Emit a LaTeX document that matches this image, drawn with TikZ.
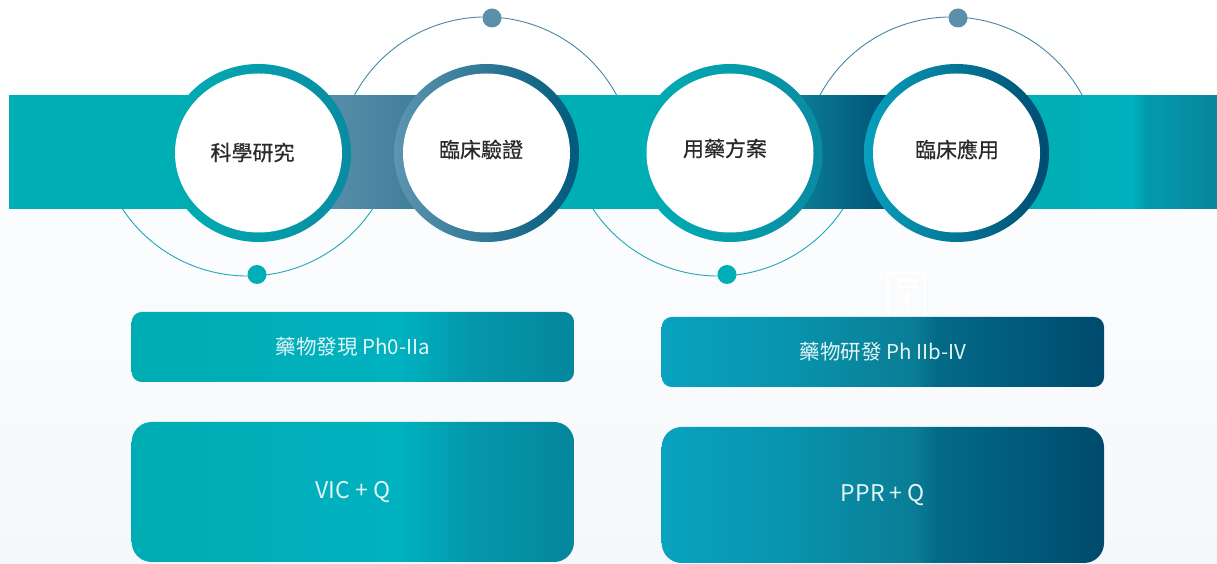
\documentclass[tikz,border=0pt]{standalone}
\usepackage{fontspec}
\newfontfamily\cjk{Noto Sans CJK TC}
\newfontfamily\cjkmed[FakeBold=0.5]{Noto Sans CJK TC}
\usetikzlibrary{arrows.meta}
\definecolor{bandteal}{HTML}{00AEB6}
\definecolor{steelL}{HTML}{5E93AE}
\definecolor{steelR}{HTML}{3A7A96}
\definecolor{navyL}{HTML}{0D849B}
\definecolor{navyR}{HTML}{004E72}
\definecolor{endA}{HTML}{00B1BE}
\definecolor{endB}{HTML}{039AAE}
\definecolor{endC}{HTML}{07869C}
\definecolor{ringTL}{HTML}{00AFB4}
\definecolor{ringTM}{HTML}{00B1BD}
\definecolor{ringTR}{HTML}{098BA2}
\definecolor{ringSL}{HTML}{5C95AF}
\definecolor{ringSM}{HTML}{3F7F9B}
\definecolor{ringSR}{HTML}{005A7C}
\definecolor{ringNL}{HTML}{07A0BD}
\definecolor{ringNM}{HTML}{0888A3}
\definecolor{ringNR}{HTML}{004B70}
\definecolor{orbT}{HTML}{1FA9B4}
\definecolor{orbS}{HTML}{4B87A3}
\definecolor{dotT}{HTML}{00AEB8}
\definecolor{dotS}{HTML}{5B8FAA}
\definecolor{txtdark}{HTML}{2A2A2A}
\definecolor{txtlight}{HTML}{E3F5F7}
\definecolor{bgbot}{HTML}{F5F8FB}
\definecolor{bA0}{HTML}{00ACB3}
\definecolor{bA1}{HTML}{00B1BF}
\definecolor{bA2}{HTML}{0497AB}
\definecolor{bA3}{HTML}{05869D}
\definecolor{bC0}{HTML}{08A3C0}
\definecolor{bC1}{HTML}{0893AC}
\definecolor{bC2}{HTML}{0A7D95}
\definecolor{bC3}{HTML}{026B88}
\definecolor{bC4}{HTML}{004A6D}
\pgfdeclarehorizontalshading{boxteal}{100bp}{color(0bp)=(bA0); color(25bp)=(bA0); color(55.5bp)=(bA1); color(63.5bp)=(bA2); color(75bp)=(bA3); color(100bp)=(bA3)}
\pgfdeclarehorizontalshading{boxnavy}{100bp}{color(0bp)=(bC0); color(25bp)=(bC0); color(40bp)=(bC1); color(53.5bp)=(bC2); color(56bp)=(bC3); color(75bp)=(bC4); color(100bp)=(bC4)}
\pgfdeclarehorizontalshading{bandshade}{100bp}{color(0bp)=(bandteal); color(25bp)=(bandteal); color(37.04bp)=(bandteal); color(37.06bp)=(steelL); color(42.84bp)=(steelR); color(42.86bp)=(bandteal); color(56.91bp)=(bandteal); color(56.93bp)=(navyL); color(61.88bp)=(navyR); color(61.9bp)=(bandteal); color(68.5bp)=(bandteal); color(71.52bp)=(endA); color(72.02bp)=(endB); color(75bp)=(endC); color(100bp)=(endC)}
\tikzset{
  orbit/.style={line width=0.9pt},
  circtext/.style={font=\cjkmed\fontsize{21}{25}\selectfont, text=txtdark, inner sep=0pt},
  boxbase/.style={rectangle, inner sep=0pt, minimum width=442.3pt, text=txtlight},
  smallbox/.style={boxbase, rounded corners=10pt, minimum height=70pt, font=\cjk\fontsize{20.5}{24}\selectfont},
  bigbox/.style={boxbase, rounded corners=20pt, font=\cjk\fontsize{23}{27}\selectfont},
  ringteal/.style={left color=ringTL, middle color=ringTM, right color=ringTR},
  ringsteel/.style={left color=ringSL, middle color=ringSM, right color=ringSR},
  ringnavy/.style={left color=ringNL, middle color=ringNM, right color=ringNR},
}
\begin{document}
\begin{tikzpicture}[x=1pt,y=1pt]
\useasboundingbox (0,0) rectangle (1217,564);
% background
\shade[top color=white, bottom color=bgbot] (0,0) rectangle (1217,564);
% orbits
\draw[orbit, orbT] ([shift={(206.8:150)}]247.5,438) arc[start angle=206.8, end angle=333.2, radius=150];
\draw[orbit, orbS] ([shift={(20.3:149)}]485.5,398) arc[start angle=20.3, end angle=159.7, radius=149];
\draw[orbit, orbT] ([shift={(206.8:150)}]718,438) arc[start angle=206.8, end angle=333.2, radius=150];
\draw[orbit, orbS] ([shift={(20.3:149)}]951,398) arc[start angle=20.3, end angle=159.7, radius=149];
\fill[dotT] (257,289.5) circle[radius=9.5];
\fill[dotS] (492,546) circle[radius=9.5];
\fill[dotT] (727,289.5) circle[radius=9.5];
\fill[dotS] (958,546) circle[radius=9.5];
% band
\shade[shading=bandshade] (9,355) rectangle (1217,468);
% circles
\shade[ringteal] (258.5,411) ellipse[x radius=92.5, y radius=89];
\fill[white] (258.5,411) ellipse[x radius=83.5, y radius=79.5];
\shade[ringsteel] (486.5,411) ellipse[x radius=92.5, y radius=89];
\fill[white] (486.5,411) ellipse[x radius=83.5, y radius=79.5];
\shade[ringteal] (730,411) ellipse[x radius=92.5, y radius=89];
\fill[white] (730,411) ellipse[x radius=83.5, y radius=79.5];
\shade[ringnavy] (956.5,411) ellipse[x radius=92.5, y radius=89];
\fill[white] (956.5,411) ellipse[x radius=83.5, y radius=79.5];
\node[circtext] (c1) at (252.5,411.5) {科學研究};
\node[circtext] (c2) at (481,414.5) {臨床驗證};
\node[circtext] (c3) at (725,415.5) {用藥方案};
\node[circtext] (c4) at (957,414.5) {臨床應用};
% faint icon
\draw[white, line width=1.5pt] (888,247) -- (888,291) -- (925,291) -- (925,247);
\draw[white, line width=1.2pt] (899,277) rectangle (916,284);
\draw[white, line width=1.5pt, -{Stealth}] (907,255) -- (907,274);
% boxes
\node[smallbox, shading=boxteal] (b1) at (352.85,217) {藥物發現 Ph0-IIa};
\node[bigbox, shading=boxteal, minimum height=140pt] (b2) at (352.85,72) {VIC + Q};
\node[smallbox, shading=boxnavy] (b3) at (882.85,212) {藥物研發 Ph IIb-IV};
\node[bigbox, shading=boxnavy, minimum height=136pt] (b4) at (882.85,69) {PPR + Q};
\end{tikzpicture}
\end{document}
